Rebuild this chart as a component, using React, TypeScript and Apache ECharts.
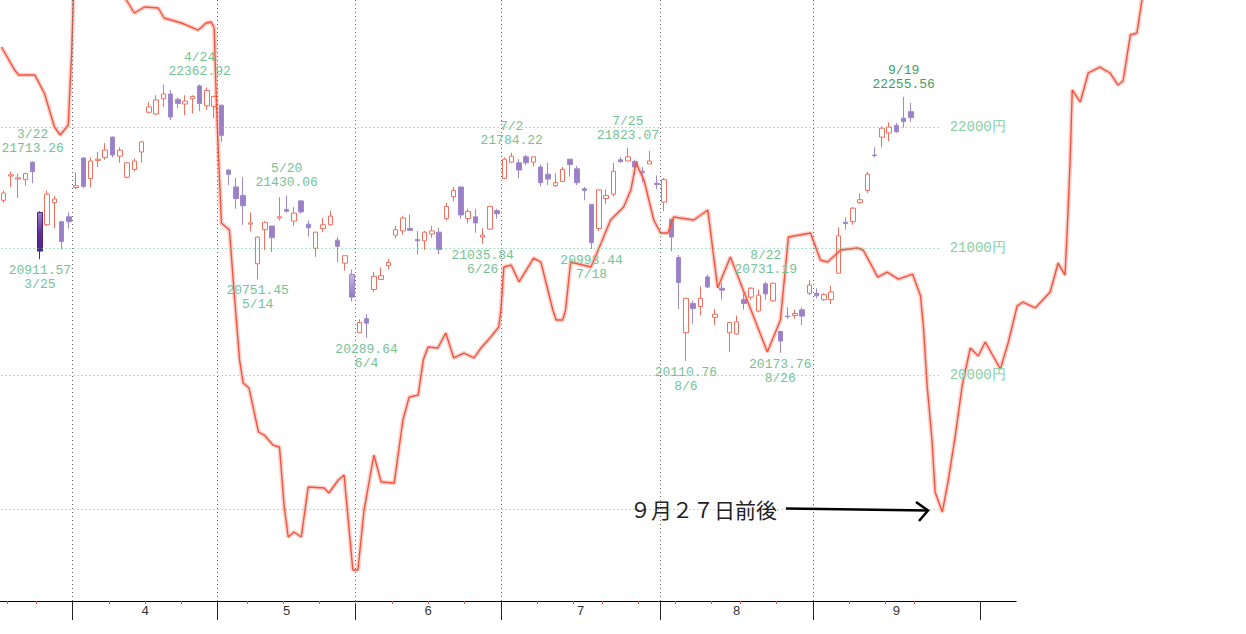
import { useEffect, useRef } from "react";
import * as echarts from "echarts";

// 日経平均 日足 2019/3/15 - 9/20
const dates = [
  "3/15", "3/18", "3/19", "3/20", "3/22", "3/25", "3/26", "3/27", "3/28", "3/29",
  "4/1", "4/2", "4/3", "4/4", "4/5", "4/8", "4/9", "4/10", "4/11", "4/12",
  "4/15", "4/16", "4/17", "4/18", "4/19", "4/22", "4/23", "4/24", "4/25", "4/26",
  "5/7", "5/8", "5/9", "5/10", "5/13", "5/14", "5/15", "5/16", "5/17", "5/20",
  "5/21", "5/22", "5/23", "5/24", "5/27", "5/28", "5/29", "5/30", "5/31",
  "6/3", "6/4", "6/5", "6/6", "6/7", "6/10", "6/11", "6/12", "6/13", "6/14",
  "6/17", "6/18", "6/19", "6/20", "6/21", "6/24", "6/25", "6/26", "6/27", "6/28",
  "7/1", "7/2", "7/3", "7/4", "7/5", "7/8", "7/9", "7/10", "7/11", "7/12",
  "7/16", "7/17", "7/18", "7/19", "7/22", "7/23", "7/24", "7/25", "7/26", "7/29", "7/30", "7/31",
  "8/1", "8/2", "8/5", "8/6", "8/7", "8/8", "8/9", "8/13", "8/14", "8/15", "8/16",
  "8/19", "8/20", "8/21", "8/22", "8/23", "8/26", "8/27", "8/28", "8/29", "8/30",
  "9/2", "9/3", "9/4", "9/5", "9/6", "9/9", "9/10", "9/11", "9/12", "9/13",
  "9/17", "9/18", "9/19", "9/20",
];

const opens = [
  21390, 21590, 21565, 21560, 21705, 21290, 21190, 21370, 21215, 21255,
  21495, 21740, 21570, 21720, 21745, 21915, 21755, 21580, 21645, 21790,
  22125, 22110, 22240, 22280, 22235, 22195, 22240, 22350, 22180, 22175,
  22185, 21640, 21500, 21430, 21195, 20875, 21150, 21180, 21245, 21315,
  21220, 21385, 21195, 21000, 21160, 21190, 21065, 20880, 20790,
  20330, 20440, 20670, 20750, 20860, 21105, 21140, 21160, 21070, 21060,
  21115, 21130, 21240, 21420, 21500, 21240, 21255, 21090, 21155, 21305,
  21570, 21705, 21700, 21750, 21705, 21665, 21605, 21510, 21545, 21730,
  21650, 21485, 21355, 21160, 21405, 21440, 21725, 21715, 21710, 21630, 21690, 21530,
  21375, 21235, 20925, 20330, 20560, 20535, 20770, 20450, 20680, 20330, 20320,
  20590, 20610, 20500, 20715, 20580, 20340, 20460, 20465, 20510, 20640,
  20640, 20590, 20590, 20800, 21210, 21215, 21370, 21470, 21765, 21915,
  21950, 22015, 22075, 22130,
];

const closes = [
  21450, 21600, 21575, 21610, 21627, 20977, 21440, 21400, 21055, 21215,
  21510, 21505, 21715, 21730, 21806, 21765, 21805, 21700, 21715, 21875,
  22170, 22230, 22280, 22085, 22200, 22220, 22260, 22200, 22310, 22260,
  21930, 21605, 21405, 21345, 21205, 21090, 21210, 21085, 21255, 21300,
  21285, 21295, 21165, 21130, 21190, 21260, 21015, 20940, 20610,
  20410, 20405, 20775, 20780, 20885, 21150, 21245, 21145, 21060, 21130,
  21140, 20990, 21340, 21470, 21270, 21300, 21205, 21105, 21340, 21280,
  21730, 21755, 21640, 21700, 21750, 21535, 21565, 21535, 21645, 21685,
  21535, 21470, 21045, 21475, 21430, 21630, 21710, 21750, 21665, 21620, 21715, 21520,
  21560, 21090, 20725, 20600, 20520, 20600, 20690, 20475, 20665, 20410, 20415,
  20560, 20680, 20625, 20635, 20720, 20265, 20455, 20480, 20460, 20705,
  20620, 20630, 20650, 21100, 21200, 21325, 21395, 21605, 21760, 21990,
  22000, 21960, 22045, 22080,
];

const highs = [
  21470, 21625, 21610, 21615, 21713.26, 21300, 21470, 21425, 21220, 21290,
  21620, 21745, 21745, 21790, 21865, 21920, 21830, 21705, 21735, 21880,
  22210, 22270, 22360, 22315, 22250, 22270, 22270, 22362.92, 22335, 22265,
  22190, 21645, 21575, 21580, 21290, 21095, 21220, 21180, 21415, 21430.06,
  21335, 21390, 21225, 21130, 21245, 21305, 21090, 20940, 20830,
  20435, 20475, 20810, 20845, 20915, 21180, 21260, 21275, 21140, 21140,
  21180, 21165, 21370, 21500, 21500, 21320, 21318, 21160, 21345, 21320,
  21745, 21784.22, 21730, 21765, 21750, 21685, 21700, 21615, 21665, 21730,
  21675, 21500, 21355, 21480, 21480, 21700, 21750, 21823.07, 21725, 21665, 21800, 21595,
  21575, 21240, 20945, 20605, 20580, 20695, 20790, 20515, 20725, 20410, 20465,
  20640, 20690, 20670, 20731.19, 20725, 20345, 20530, 20510, 20530, 20745,
  20680, 20640, 20700, 21170, 21250, 21335, 21445, 21625, 21830, 22005,
  22040, 22035, 22255.56, 22205,
];

const lows = [
  21370, 21500, 21410, 21510, 21530, 20911.57, 21180, 21160, 20990, 21160,
  21480, 21490, 21495, 21665, 21725, 21745, 21700, 21570, 21630, 21700,
  22115, 22100, 22170, 22060, 22160, 22100, 22115, 22135, 22145, 22075,
  21875, 21515, 21320, 21190, 21135, 20751.45, 20985, 20970, 21225, 21290,
  21180, 21280, 21095, 20930, 21130, 21180, 20890, 20820, 20575,
  20330, 20289.64, 20650, 20750, 20830, 21080, 21110, 21140, 20950, 20985,
  21085, 20950, 21225, 21380, 21240, 21200, 21125, 21035.84, 21150, 21240,
  21570, 21700, 21570, 21680, 21670, 21505, 21515, 21500, 21540, 21585,
  21515, 21390, 20993.44, 21140, 21360, 21420, 21700, 21710, 21600, 21535, 21690, 21480,
  21300, 20975, 20515, 20110.76, 20400, 20465, 20680, 20390, 20590, 20180, 20315,
  20510, 20590, 20490, 20590, 20575, 20173.76, 20440, 20440, 20390, 20625,
  20600, 20580, 20555, 20800, 21150, 21190, 21360, 21450, 21745, 21830,
  21880, 21950, 21995, 22045,
];

// 高値・安値の注記
const peakDates = ["3/22", "4/24", "5/20", "7/2", "7/25", "8/22", "9/19"];
const troughDates = ["3/25", "5/14", "6/4", "6/26", "7/18", "8/6", "8/26"];

// 予想ライン (営業日位置, 水準)
const cycleDays = [
  0.2, 2.0, 2.6, 4.8, 6.1, 7.5, 8.3, 9.4, 9.6, 9.85,
  10.1, 11.9, 15.4, 17.4, 18.5, 19.9, 21.8, 22.6, 25.0, 27.3,
  28.4, 29.1, 29.5, 29.8, 30.1, 30.5, 31.6, 32.3, 33.0, 33.5,
  34.3, 35.6, 36.4, 37.6, 38.5, 39.15, 39.7, 40.5, 41.5, 42.45,
  44.65, 45.3, 46.6, 47.4, 48.6, 49.3, 50.15, 51.5, 52.5, 54.3,
  55.5, 56.35, 57.6, 58.3, 58.96, 60.3, 61.4, 62.5, 63.9, 65.3,
  66.25, 67.6, 68.7, 69.0, 69.4, 70.4, 71.5, 73.5, 74.5, 76.15,
  76.6, 77.5, 77.9, 78.6, 81.4, 82.8, 84.1, 85.9, 86.9, 87.6,
  88.7, 90.05, 91.0, 92.0, 92.8, 95.55, 97.5, 98.85, 100.6, 105.7,
  107.5, 108.6, 111.65, 113.0, 114.0, 115.8, 118.1, 118.9, 120.9, 122.2,
  123.75, 125.7, 126.8, 127.2, 127.7, 128.4, 128.8, 129.8, 130.6, 131.6,
  132.55, 133.65, 134.75, 135.7, 137.8, 138.9, 140.1, 140.9, 142.6, 144.65,
  145.75, 146.7, 147.0, 147.4, 147.7, 148.8, 149.9, 151.5, 152.9, 154.0,
  154.7, 155.7, 156.6, 157.3, 158.4,
];
const cycleLevels = [
  22686, 22487, 22443, 22443, 22289, 22000, 21933, 22017, 22289, 22599,
  23099, 23546, 23546, 23099, 22984, 23037, 23028, 22940, 22896, 22834,
  22896, 22905, 22852, 22229, 21748, 21204, 21147, 20611, 20118, 19941,
  19903, 19570, 19547, 19472, 19458, 19015, 18797, 18833, 18797, 19161,
  19154, 19117, 19213, 19250, 18560, 18560, 18993, 19398, 19198, 19191,
  19660, 19834, 19850, 20118, 20219, 20211, 20328, 20134, 20172, 20134,
  20211, 20297, 20375, 20508, 20849, 20865, 20730, 20921, 20889, 20508,
  20429, 20429, 20508, 20889, 20849, 21042, 21229, 21335, 21474, 21698,
  21557, 21229, 21123, 21123, 21253, 21229, 21310, 20682, 20929, 20180,
  20429, 21091, 21123, 20905, 20889, 20986, 21002, 20986, 20769, 20809,
  20753, 20793, 20618, 20375, 19926, 19495, 19124, 18978, 19205, 19547,
  19926, 20211, 20149, 20258, 20049, 20258, 20539, 20571, 20524, 20650,
  20881, 20785, 21139, 21706, 22315, 22212, 22461, 22512, 22461, 22357,
  22392, 22791, 22808, 23099, 23366,
];

// 軸
const futureSlotCount = 14;
const cycleSlotCount = 160;
const monthStarts = [10, 30, 49, 69, 91, 112, 135];
const monthNames = ["4", "5", "6", "7", "8", "9"];
const weekStarts = [1, 5, 15, 20, 25, 34, 39, 44, 49, 54, 59, 64, 74, 79, 83, 88, 93, 98, 102, 107, 117, 122, 126];
const gridLevels = [19000, 20000, 21000, 22000];
const labelledLevels = [20000, 21000, 22000];

const SLOT = 7.27;
const LEFT = -1.64;
const PLOT_H = 601;
const PRICE_MIN = 18341;
const PRICE_MAX = 23099;
const GREEN = "#74c394";

const App = () => {
  const chartRef = useRef<HTMLDivElement>(null);

  useEffect(() => {
    if (!chartRef.current) return;
    const chart = echarts.init(chartRef.current, null, { renderer: "svg" });

    const slots = [...dates, ...Array.from({ length: futureSlotCount }, (_, i) => `+${i + 1}`)];
    const monthMids = monthNames.map((_, i) => (monthStarts[i] + monthStarts[i + 1]) / 2);

    const candles = dates.map((d, i) => {
      const value = [opens[i], closes[i], lows[i], highs[i]];
      if (d === "3/25") {
        return {
          value,
          itemStyle: {
            color0: new echarts.graphic.LinearGradient(0, 0, 0, 1, [
              { offset: 0, color: "#9d85c9" },
              { offset: 0.45, color: "#5e3196" },
              { offset: 1, color: "#4a1d84" },
            ]),
            borderColor0: "#4f2388",
          },
        };
      }
      if (d === "5/31") {
        return {
          value,
          itemStyle: {
            color0: new echarts.graphic.LinearGradient(0, 0, 0, 1, [
              { offset: 0, color: "#d2c5e6" },
              { offset: 1, color: "#8a6bbf" },
            ]),
          },
        };
      }
      return value;
    });

    const labelStyle = {
      show: true,
      color: GREEN,
      fontFamily: "Liberation Mono",
      fontSize: 13,
      lineHeight: 14,
      align: "center",
    };

    const marks = [
      ...peakDates.map((d) => {
        const i = dates.indexOf(d);
        return {
          coord: [i, highs[i]],
          label: {
            ...labelStyle,
            color: d === "9/19" ? "#3f9d66" : GREEN,
            position: "top",
            distance: 5,
            formatter: `${d}\n${highs[i].toFixed(2)}`,
          },
        };
      }),
      ...troughDates.map((d) => {
        const i = dates.indexOf(d);
        return {
          coord: [i, lows[i]],
          label: {
            ...labelStyle,
            position: "bottom",
            distance: 4,
            formatter: `${lows[i].toFixed(2)}\n${d}`,
          },
        };
      }),
    ];

    const cycle = cycleDays.map((d, i) => [d, cycleLevels[i]]);

    chart.setOption({
      animation: false,
      backgroundColor: "#ffffff",
      grid: [
        { left: LEFT, top: 0, width: slots.length * SLOT, height: PLOT_H },
        { left: LEFT, top: 0, width: cycleSlotCount * SLOT, height: PLOT_H },
      ],
      xAxis: [
        { type: "category", gridIndex: 0, data: slots, boundaryGap: true, show: false },
        {
          type: "value",
          gridIndex: 0,
          min: 0,
          max: slots.length,
          position: "bottom",
          offset: 0,
          axisLine: { show: true, onZero: false, lineStyle: { color: "#000", width: 1 } },
          axisTick: { show: true, customValues: monthStarts, length: 19, lineStyle: { color: "#222", width: 1 } },
          axisLabel: {
            show: true,
            customValues: monthMids,
            formatter: (v: number) => monthNames[monthMids.indexOf(v)] ?? "",
            color: "#333",
            fontFamily: "Liberation Mono",
            fontSize: 13,
            margin: 4,
          },
          splitLine: { show: false },
        },
        {
          type: "value",
          gridIndex: 0,
          min: 0,
          max: slots.length,
          position: "bottom",
          offset: 0,
          axisLine: { show: false, onZero: false },
          axisTick: { show: true, customValues: weekStarts, length: 3, lineStyle: { color: "#f0503b", width: 1 } },
          axisLabel: { show: false },
          splitLine: { show: false },
        },
        { type: "value", gridIndex: 1, min: 0, max: cycleSlotCount, show: false, splitLine: { show: false } },
      ],
      yAxis: [
        { type: "log", gridIndex: 0, min: PRICE_MIN, max: PRICE_MAX, show: false, splitLine: { show: false } },
        { type: "log", gridIndex: 1, min: PRICE_MIN, max: PRICE_MAX, show: false, splitLine: { show: false } },
      ],
      series: [
        {
          name: "grid",
          type: "line",
          xAxisIndex: 1,
          yAxisIndex: 0,
          z: 1,
          data: [[0, 20000]],
          symbol: "none",
          lineStyle: { opacity: 0 },
          silent: true,
          markLine: {
            silent: true,
            symbol: ["none", "none"],
            animation: false,
            label: { show: false },
            data: [
              ...monthStarts.slice(0, -1).map((s) => ({
                xAxis: s,
                lineStyle: { color: "#666", type: [1, 3], width: 1 },
                label: { show: false },
              })),
              ...gridLevels.map((level) => [
                {
                  coord: [0.23, level],
                  lineStyle: { color: "#6cc497", type: [1, 3], width: 1 },
                  label: {
                    show: labelledLevels.includes(level),
                    position: "end",
                    distance: 9,
                    formatter: `${level}円`,
                    color: "#86cfa5",
                    fontFamily: "Liberation Mono",
                    fontSize: 14,
                  },
                },
                { coord: [129.6, level] },
              ]),
            ],
          },
        },
        {
          name: "日経平均",
          type: "candlestick",
          xAxisIndex: 0,
          yAxisIndex: 0,
          z: 2,
          barWidth: 5,
          data: candles,
          itemStyle: {
            color: "#ffffff",
            color0: "#9b80c7",
            borderColor: "#f2705f",
            borderColor0: "#9f88cb",
            borderWidth: 1,
          },
          markPoint: {
            symbol: "circle",
            symbolSize: 1,
            itemStyle: { color: "rgba(0,0,0,0)" },
            silent: true,
            animation: false,
            data: marks,
          },
        },
        {
          name: "予想ライン光",
          type: "line",
          xAxisIndex: 3,
          yAxisIndex: 1,
          z: 3,
          symbol: "none",
          silent: true,
          data: cycle,
          lineStyle: { color: "rgba(244,120,104,0.33)", width: 4.5 },
        },
        {
          name: "予想ライン",
          type: "line",
          xAxisIndex: 3,
          yAxisIndex: 1,
          z: 4,
          symbol: "none",
          silent: true,
          data: cycle,
          lineStyle: { color: "#f25440", width: 1.4 },
        },
      ],
      graphic: [
        {
          type: "text",
          x: 630,
          y: 509,
          z: 10,
          style: {
            text: "９月２７日前後",
            fontFamily: "Noto Sans CJK JP",
            fontSize: 21,
            fill: "#222",
            verticalAlign: "middle",
          },
        },
        {
          type: "line",
          z: 10,
          shape: { x1: 786, y1: 508.5, x2: 928, y2: 510.5 },
          style: { stroke: "#000", lineWidth: 2.5 },
        },
        {
          type: "polyline",
          z: 10,
          shape: { points: [[916, 502], [928, 510.5], [919, 521]] },
          style: { stroke: "#000", lineWidth: 2.5, fill: null },
        },
      ],
    });

    return () => {
      chart.dispose();
    };
  }, []);

  return (
    <div
      ref={chartRef}
      style={{ position: "fixed", left: 0, top: 0, width: "1246px", height: "634px", background: "#fff" }}
    ></div>
  );
};

export default App;
